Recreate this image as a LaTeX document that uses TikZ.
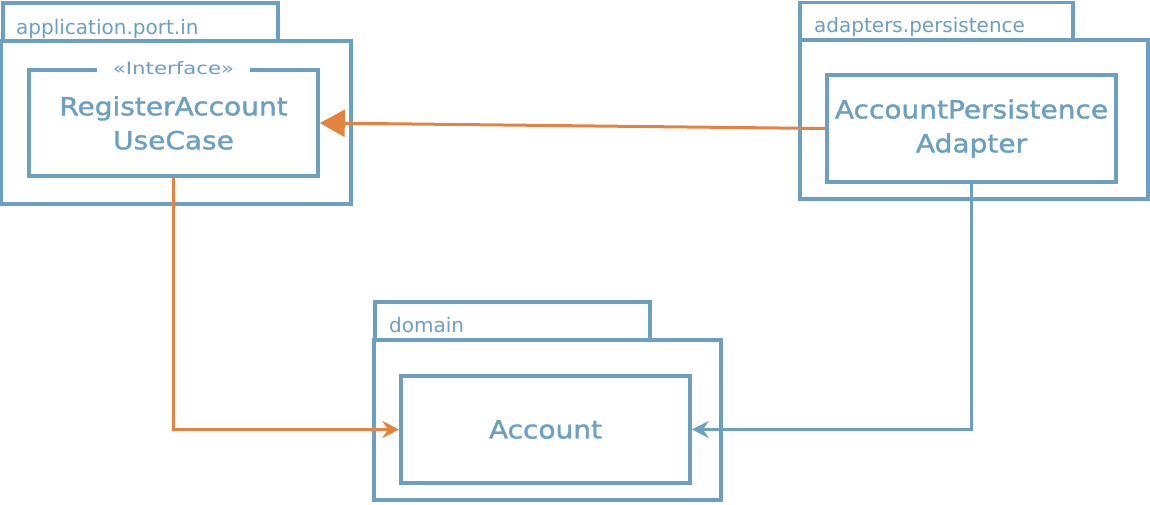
\documentclass[tikz,border=0pt]{standalone}
\usepackage{fontspec}
\setmainfont{DejaVu Sans}
\newfontfamily\namefont[FakeBold=1.5,FakeStretch=1.12]{DejaVu Sans}
\newfontfamily\stfont[FakeStretch=1.25]{DejaVu Sans}
\usetikzlibrary{arrows.meta}
\definecolor{pblue}{RGB}{108,160,194}
\definecolor{porange}{RGB}{228,130,64}

\begin{document}
\begin{tikzpicture}[x=1pt,y=-1pt,
    box/.style={draw=pblue,line width=3.6pt,inner sep=0pt},
    lbl/.style={text=pblue,font=\fontsize{20}{22}\selectfont,inner sep=0pt},
    cname/.style={text=pblue,font=\namefont\fontsize{25}{34}\selectfont,align=center},
    dep/.style={line width=3pt}]
    \useasboundingbox (0,0) rectangle (1150,504);
    \node[box,minimum width=275pt,minimum height=38pt] (t1) at (140.5,22) {};
    \node[box,minimum width=350pt,minimum height=163pt] (p1) at (176,122.5) {};
    \node[box,minimum width=273pt,minimum height=37pt] (t2) at (936.5,21) {};
    \node[box,minimum width=348pt,minimum height=159pt] (p2) at (974,119.5) {};
    \node[box,minimum width=275pt,minimum height=38pt] (t3) at (512.5,321) {};
    \node[box,minimum width=347pt,minimum height=160pt] (p3) at (547.5,420) {};
    \node[lbl,anchor=base west] (l1) at (16,34) {application.port.in};
    \node[lbl,anchor=base west] (l2) at (814,32) {adapters.persistence};
    \node[lbl,anchor=base west] (l3) at (389,332) {domain};
    \node[box,cname,minimum width=289pt,minimum height=106pt] (uc) at (173.5,123) {RegisterAccount\\UseCase};
    \node[lbl,font=\stfont\fontsize{17}{18}\selectfont,fill=white,inner xsep=16pt,inner ysep=2pt] (st) at (uc.north) {«Interface»};
    \node[box,cname,minimum width=289pt,minimum height=107pt] (ad) at (971.5,128.5) {AccountPersistence\\Adapter};
    \node[box,cname,minimum width=289pt,minimum height=107pt] (acc) at (545.5,429.5) {Account};
    \draw[dep,porange,-{Triangle[length=25pt,width=27pt]}] (ad.west) -- (uc.east);
    \draw[dep,porange,-{Stealth[length=17pt,width=17pt,inset=6pt]}] (uc.south) |- (acc.west);
    \draw[dep,pblue,-{Stealth[length=17pt,width=17pt,inset=6pt]}] (ad.south) |- (acc.east);
\end{tikzpicture}
\end{document}
